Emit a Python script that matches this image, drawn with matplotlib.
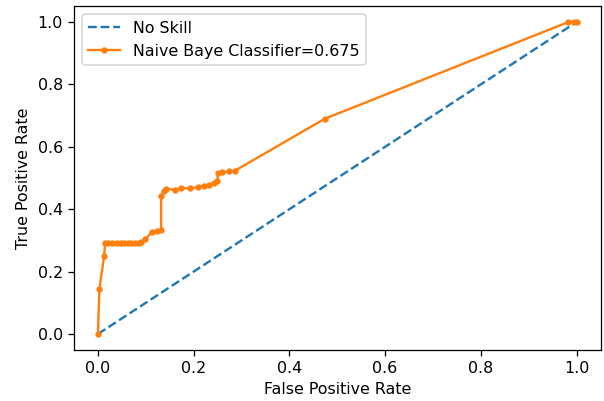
import matplotlib
matplotlib.use("Agg")
import matplotlib.pyplot as plt

# no-skill baseline
ns_fpr = [0.0, 1.0]
ns_tpr = [0.0, 1.0]

# ROC curve points for the Naive Bayes model
nb_fpr = [0.000, 0.003, 0.013, 0.015, 0.022, 0.030, 0.040, 0.048, 0.055, 0.062,
          0.070, 0.078, 0.085, 0.090, 0.099, 0.112, 0.123, 0.132, 0.132, 0.137,
          0.142, 0.161, 0.174, 0.193, 0.210, 0.221, 0.232, 0.242, 0.249, 0.251,
          0.259, 0.273, 0.287, 0.474, 0.983, 0.994, 1.000]
nb_tpr = [0.000, 0.143, 0.251, 0.292, 0.292, 0.292, 0.292, 0.292, 0.292, 0.292,
          0.292, 0.292, 0.292, 0.294, 0.303, 0.326, 0.329, 0.334, 0.441, 0.457,
          0.465, 0.462, 0.467, 0.467, 0.471, 0.475, 0.478, 0.483, 0.489, 0.515,
          0.518, 0.521, 0.524, 0.690, 1.000, 1.000, 1.000]
nb_auc = 0.675

dpi = 114
fig, ax = plt.subplots(figsize=(604 / dpi, 401 / dpi), dpi=dpi)
fig.subplots_adjust(left=74 / 604, right=600.5 / 604, top=1 - 6.4 / 401, bottom=1 - 349.6 / 401)

ax.plot(ns_fpr, ns_tpr, linestyle='--', label='No Skill')
ax.plot(nb_fpr, nb_tpr, marker='.', label='Naive Baye Classifier=%.3f' % nb_auc)

ax.set_xlabel('False Positive Rate')
ax.set_ylabel('True Positive Rate')
ax.legend(loc='upper left')

fig.savefig('out.png', dpi=dpi)
